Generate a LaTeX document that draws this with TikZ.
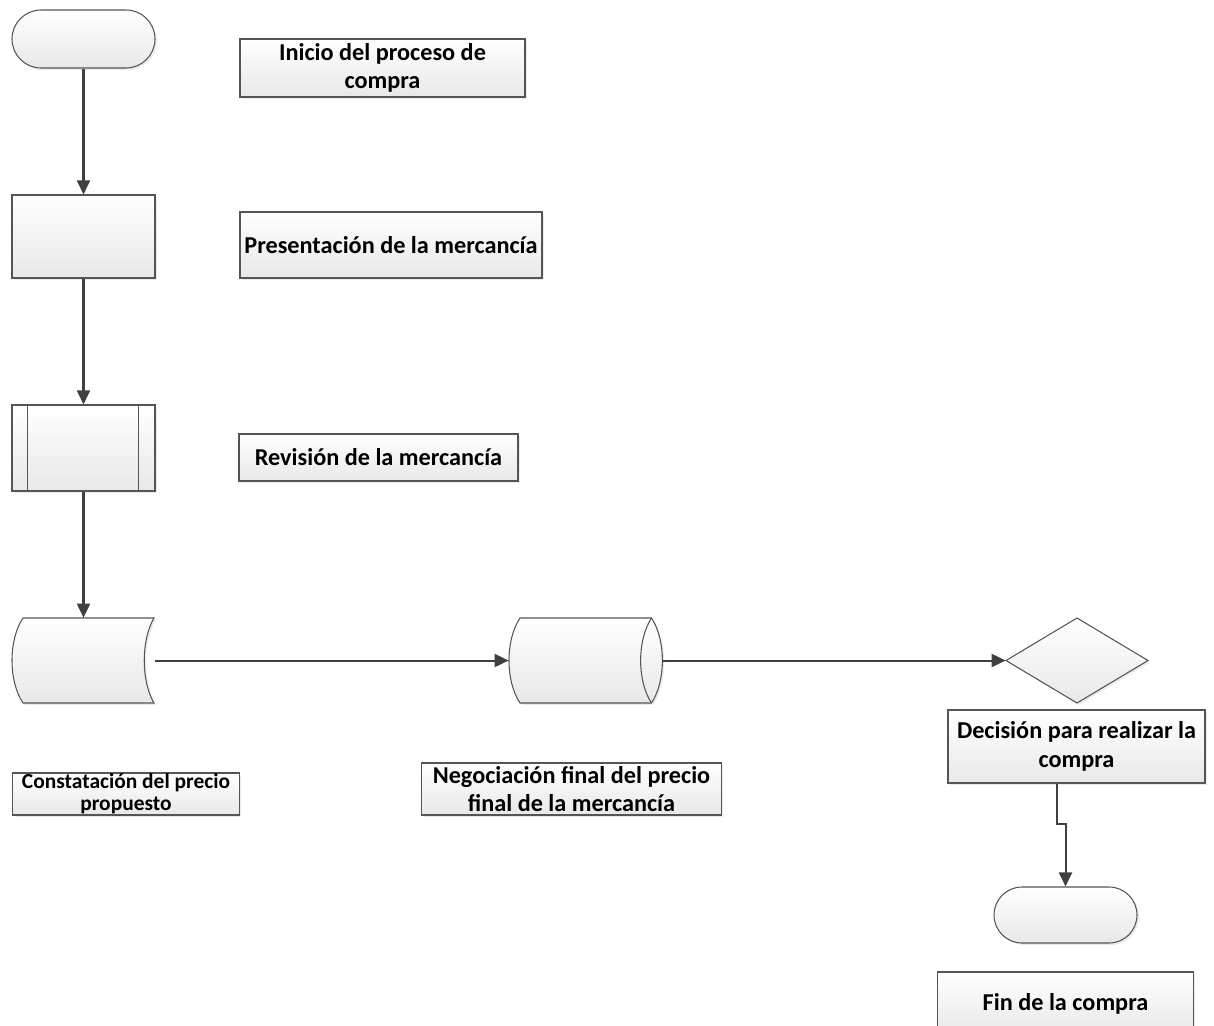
\documentclass[tikz,border=0pt]{standalone}
\usepackage{fontspec}
\setmainfont{Carlito}
\usetikzlibrary{arrows.meta,shapes.misc,shadows}
\newcommand\pxu{0.02cm}
\definecolor{linec}{HTML}{404040}
\definecolor{edgec}{HTML}{555555}
\definecolor{topc}{HTML}{FFFFFF}
\definecolor{botc}{HTML}{E8E8E8}
\tikzset{
  shp/.style={draw=edgec, line width=0.6pt, top color=topc, bottom color=botc,
    drop shadow={shadow xshift=1.1pt, shadow yshift=-1.1pt, fill=black!30, opacity=0.25}},
  anch/.style={draw=none, inner sep=0pt},
  lbl/.style={draw=edgec, line width=0.6pt, top color=topc, bottom color=botc, inner sep=0pt,
    align=center, font=\bfseries\fontsize{13.8}{16.3}\selectfont,
    drop shadow={shadow xshift=1.1pt, shadow yshift=-1.1pt, fill=black!30, opacity=0.25}},
  smalllbl/.style={lbl, font=\bfseries\fontsize{12.2}{12.4}\selectfont},
  arr/.style={draw=linec, line width=1.15pt, -{Triangle[length=8pt,width=7.4pt]}},
  termbox/.style={shp, rounded rectangle, inner sep=0pt}
}
\begin{document}
\begin{tikzpicture}[x=0.02cm, y=-0.02cm]
\clip (0,0) rectangle (1214,1025);
\fill[white] (0,0) rectangle (1214,1025);

% start terminator
\node[termbox, minimum width=143*\pxu, minimum height=58*\pxu] (start) at (83.5,39) {};
% process box
\node[shp, rectangle, inner sep=0pt, minimum width=143*\pxu, minimum height=83*\pxu] (proc) at (83.5,236.5) {};
% predefined process
\node[shp, rectangle, inner sep=0pt, minimum width=143*\pxu, minimum height=86*\pxu] (pre) at (83.5,448) {};
\draw[draw=edgec, line width=0.6pt] ([xshift=16*\pxu]pre.north west) -- ([xshift=16*\pxu]pre.south west);
\draw[draw=edgec, line width=0.6pt] ([xshift=-17*\pxu]pre.north east) -- ([xshift=-17*\pxu]pre.south east);

% stored data
\path[shp] (23,618) -- (154,618) .. controls (141,640) and (141,681) .. (154,703)
  -- (23,703) .. controls (8.3,681) and (8.3,640) .. (23,618) -- cycle;
\node[anch, minimum width=143*\pxu, minimum height=85*\pxu] (sd) at (83.5,660.5) {};

% direct access storage (cylinder)
\path[shp] (520,618) -- (651.5,618) .. controls (666,640) and (666,681) .. (651.5,703)
  -- (520,703) .. controls (505.3,681) and (505.3,640) .. (520,618) -- cycle;
\draw[draw=edgec, line width=0.6pt] (651.5,618) .. controls (637,640) and (637,681) .. (651.5,703);
\node[anch, minimum width=153*\pxu, minimum height=85*\pxu] (cyl) at (585.5,660.5) {};

% decision diamond
\path[shp] (1006,660.5) -- (1077,618) -- (1148,660.5) -- (1077,703) -- cycle;
\node[anch, minimum width=142*\pxu, minimum height=85*\pxu] (dec) at (1077,660.5) {};

% end terminator
\node[termbox, minimum width=143*\pxu, minimum height=56*\pxu] (endt) at (1065.5,915) {};

% labels
\node[lbl, minimum width=285*\pxu, minimum height=58*\pxu] (l1) at (382.5,68) {Inicio del proceso de\\compra};
\node[lbl, minimum width=302*\pxu, minimum height=66*\pxu] (l2) at (391,245) {Presentación de la mercancía};
\node[lbl, minimum width=279*\pxu, minimum height=47*\pxu] (l3) at (378.5,457.5) {Revisión de la mercancía};
\node[smalllbl, minimum width=226.5*\pxu, minimum height=42*\pxu] (l4) at (126,794) {Constatación del precio\\propuesto};
\node[lbl, minimum width=300*\pxu, minimum height=52*\pxu] (l5) at (571.5,789) {Negociación final del precio\\final de la mercancía};
\node[lbl, minimum width=257*\pxu, minimum height=73*\pxu] (l6) at (1076.5,746.5) {Decisión para realizar la\\compra};
\node[lbl, minimum width=256*\pxu, minimum height=63*\pxu] (l7) at (1065.5,1003.5) {Fin de la compra};

% connectors
\draw[arr] (start.south) -- (proc.north);
\draw[arr] (proc.south) -- (pre.north);
\draw[arr] (pre.south) -- (sd.north);
\draw[arr] (sd.east) -- (cyl.west);
\draw[arr] (cyl.east) -- (dec.west);
\coordinate (j1) at (1057,824);
\coordinate (j2) at (1065.5,824);
\draw[arr] (l6.south -| j1) -- (j1) -- (j2) -- (endt.north);
\end{tikzpicture}
\end{document}
